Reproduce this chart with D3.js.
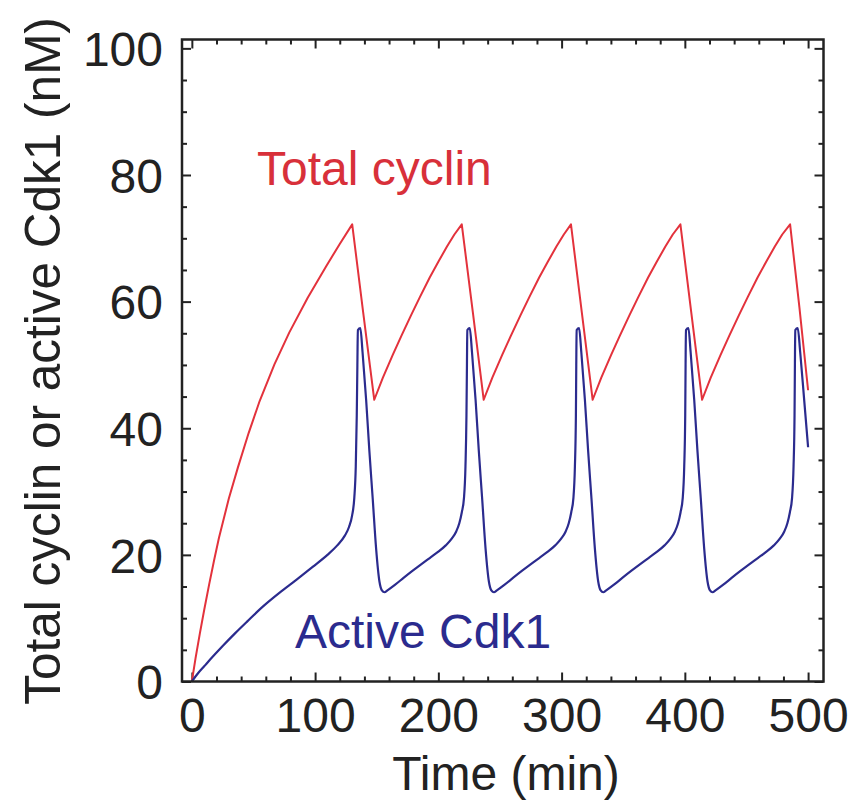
<!DOCTYPE html>
<html>
<head>
<meta charset="utf-8">
<script src="https://cdnjs.cloudflare.com/ajax/libs/d3/7.8.5/d3.min.js"></script>
<style>
  body { margin: 0; background: #fff; }
  text { font-family: "Liberation Sans", Arial, Helvetica, sans-serif; }
  .tick line { stroke: #222; stroke-width: 2; }
  .tick text { fill: #222; font-size: 48px; }
</style>
</head>
<body>
<div class="container"></div>
<script>
// Data (time in min, concentration in nM)
var cyclinTime = [0, 3, 6.5, 10, 14, 18, 22, 30, 37.5, 46, 55, 67, 79, 94, 109, 120, 130.1, 139, 148,
  155, 163, 170, 178, 185, 193, 200, 207, 213, 219, 228, 236.8,
  243.8, 251.8, 258.8, 266.8, 273.8, 281.8, 288.8, 295.8, 301.8, 307.6, 316.4, 325.2,
  332.2, 340.2, 347.2, 355.2, 362.2, 370.2, 377.2, 384.2, 390.2, 396.4, 405.2, 414,
  421, 429, 436, 444, 451, 459, 466, 473, 479, 485.4, 493, 500];
var totalCyclin = [0, 3.7, 7.6, 11.3, 15.3, 19.1, 22.7, 28.9, 33.9, 39.2, 44.3, 50.1, 55.1, 60.6, 65.6, 69.1, 72.2, 58.3, 44.5,
  48, 51.6, 54.6, 57.9, 60.7, 63.8, 66.3, 68.7, 70.6, 72.2, 58.3, 44.5,
  48, 51.6, 54.6, 57.9, 60.7, 63.8, 66.3, 68.7, 70.6, 72.2, 58.3, 44.5,
  48, 51.6, 54.6, 57.9, 60.7, 63.8, 66.3, 68.7, 70.6, 72.2, 58.3, 44.5,
  48, 51.6, 54.6, 57.9, 60.7, 63.8, 66.3, 68.7, 70.6, 72.2, 59, 46];

var cdk1Time = [0, 5, 10, 15, 25, 35, 45, 58, 71, 85, 98, 110, 118, 124, 127.5, 130, 131.8, 133, 133.8, 134.3, 134.7,
  136.7, 138.5, 141.4, 144, 146.8, 149.5, 152.2, 154.2, 156.3, 158.7, 165, 172, 179.2, 186, 193, 200, 206, 211, 214.5, 217, 219, 220.8, 222, 222.8, 223.2, 223.5,
  225.5, 227.3, 230.2, 232.8, 235.6, 238.3, 241, 243, 245.1, 247.5, 253.8, 260.8, 268, 274.8, 281.8, 288.8, 294.8, 299.8, 303.3, 305.8, 307.8, 309.6, 310.8, 311.6, 311.9, 312.2,
  314.2, 316, 318.9, 321.5, 324.3, 327, 329.7, 331.7, 333.8, 336.2, 342.5, 349.5, 356.7, 363.5, 370.5, 377.5, 383.5, 388.5, 392, 394.5, 396.5, 398.3, 399.5, 400.3, 400.6, 400.9,
  402.9, 404.7, 407.6, 410.2, 413, 415.7, 418.4, 420.4, 422.5, 424.9, 431.2, 438.2, 445.4, 452.2, 459.2, 466.2, 472.2, 477.2, 480.7, 483.2, 485.2, 487, 488.2, 489, 489.3, 489.6,
  491.6, 493.6, 496.6, 500];
var activeCdk1 = [0, 1.3, 2.4, 3.5, 5.6, 7.6, 9.5, 11.9, 14, 16.1, 18.1, 20, 21.5, 23, 24.4, 26.2, 29, 34, 42, 50, 55.5,
  55.8, 52, 44.5, 36.5, 28.7, 21, 15.8, 14.4, 14.1, 14.4, 15.3, 16.4, 17.5, 18.5, 19.5, 20.5, 21.5, 22.6, 23.7, 25, 26.7, 29, 34, 42, 50, 55.5,
  55.8, 52, 44.5, 36.5, 28.7, 21, 15.8, 14.4, 14.1, 14.4, 15.3, 16.4, 17.5, 18.5, 19.5, 20.5, 21.5, 22.6, 23.7, 25, 26.7, 29, 34, 42, 50, 55.5,
  55.8, 52, 44.5, 36.5, 28.7, 21, 15.8, 14.4, 14.1, 14.4, 15.3, 16.4, 17.5, 18.5, 19.5, 20.5, 21.5, 22.6, 23.7, 25, 26.7, 29, 34, 42, 50, 55.5,
  55.8, 52, 44.5, 36.5, 28.7, 21, 15.8, 14.4, 14.1, 14.4, 15.3, 16.4, 17.5, 18.5, 19.5, 20.5, 21.5, 22.6, 23.7, 25, 26.7, 29, 34, 42, 50, 55.5,
  55.8, 52, 45, 37];

var xTicks = [0, 100, 200, 300, 400, 500];
var xMinorTicks = [20, 40, 60, 80, 120, 140, 160, 180, 220, 240, 260, 280, 320, 340, 360, 380, 420, 440, 460, 480];
var yTicks = [0, 20, 40, 60, 80, 100];
var yMinorTicks = [5, 10, 15, 25, 30, 35, 45, 50, 55, 65, 70, 75, 85, 90, 95];

var RED = "#e3323c";
var BLUE = "#2b2b8e";

// Frame of the plot, in page pixels
var margin = {top: 39.5, right: 30.5, bottom: 122.5, left: 182};
var width = 854 - margin.left - margin.right;
var height = 804 - margin.top - margin.bottom;

var xScale = d3.scaleLinear().domain([-8, 512.5]).range([0, width]);
var yScale = d3.scaleLinear().domain([0, 101.4]).range([height, 0]);

var svg = d3.select(".container").append("svg")
    .attr("width", 854)
    .attr("height", 804)
  .append("g")
    .attr("transform", "translate(" + margin.left + "," + margin.top + ")");

// Ticks on all four sides, pointing inward
function ticks(axis, values, size, labelled) {
  var a = axis.tickValues(values).tickSize(-size);
  if (!labelled) a.tickFormat("");
  return a;
}

var bottom = svg.append("g").attr("transform", "translate(0," + height + ")");
bottom.call(ticks(d3.axisBottom(xScale), xMinorTicks, 5, false));
bottom.append("g").call(ticks(d3.axisBottom(xScale), xTicks, 9, true).tickPadding(16));

var top_ = svg.append("g");
top_.call(ticks(d3.axisTop(xScale), xMinorTicks, 5, false));
top_.append("g").call(ticks(d3.axisTop(xScale), xTicks, 9, false));

var left = svg.append("g");
left.call(ticks(d3.axisLeft(yScale), yMinorTicks, 5, false));
left.append("g").call(ticks(d3.axisLeft(yScale), yTicks, 9, true).tickPadding(19));

var right = svg.append("g").attr("transform", "translate(" + width + ",0)");
right.call(ticks(d3.axisRight(yScale), yMinorTicks, 5, false));
right.append("g").call(ticks(d3.axisRight(yScale), yTicks, 9, false));

svg.selectAll(".domain").remove();
svg.selectAll(".tick text").attr("dy", "0.36em");
bottom.selectAll(".tick text").attr("dy", "0.71em");

// Curves: cyclin has sharp corners, Cdk1 is smooth
var cyclinLine = d3.line()
    .x(function(d) { return xScale(d[0]); })
    .y(function(d) { return yScale(d[1]); });

var cdk1Line = d3.line()
    .x(function(d) { return xScale(d[0]); })
    .y(function(d) { return yScale(d[1]); })
    .curve(d3.curveMonotoneX);

svg.append("path")
    .datum(cyclinTime.map(function(t, i) { return [t, totalCyclin[i]]; }))
    .attr("fill", "none")
    .attr("stroke", RED)
    .attr("stroke-width", 2)
    .attr("stroke-linejoin", "round")
    .attr("d", cyclinLine);

svg.append("path")
    .datum(cdk1Time.map(function(t, i) { return [t, activeCdk1[i]]; }))
    .attr("fill", "none")
    .attr("stroke", BLUE)
    .attr("stroke-width", 2.2)
    .attr("d", cdk1Line);

// Frame
svg.append("rect")
    .attr("width", width)
    .attr("height", height)
    .attr("fill", "none")
    .attr("stroke", "#222")
    .attr("stroke-width", 2.5);

// Curve labels
svg.append("text")
    .attr("x", 257 - margin.left)
    .attr("y", 185 - margin.top)
    .attr("fill", "#d8303a")
    .style("font-size", "48px")
    .text("Total cyclin");

svg.append("text")
    .attr("x", 295 - margin.left)
    .attr("y", 648 - margin.top)
    .attr("fill", BLUE)
    .style("font-size", "48px")
    .text("Active Cdk1");

// Axis titles
svg.append("text")
    .attr("x", 506 - margin.left)
    .attr("y", 790 - margin.top)
    .attr("fill", "#222")
    .style("text-anchor", "middle")
    .style("font-size", "48px")
    .text("Time (min)");

svg.append("text")
    .attr("transform", "translate(" + (60 - margin.left) + "," + (361 - margin.top) + ") rotate(-90)")
    .attr("fill", "#222")
    .style("text-anchor", "middle")
    .style("font-size", "49.5px")
    .text("Total cyclin or active Cdk1 (nM)");
</script>
</body>
</html>
